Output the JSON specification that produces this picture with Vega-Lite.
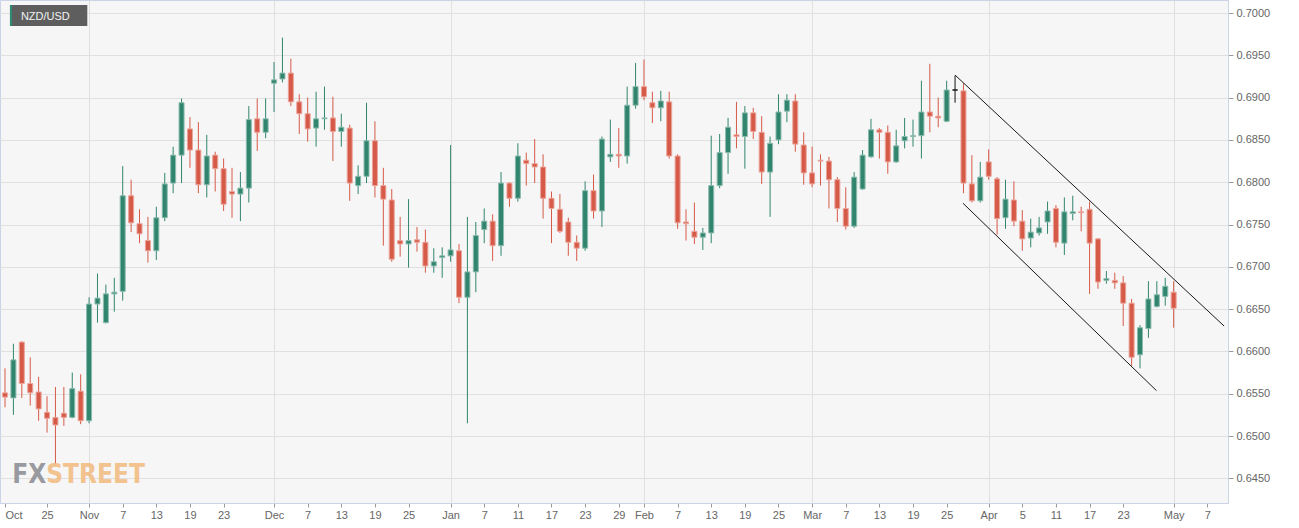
{
  "$schema": "https://vega.github.io/schema/vega-lite/v6.json",
  "width": 1228,
  "height": 503,
  "autosize": {"type": "none"},
  "padding": {"left": 0, "top": 0, "right": 71, "bottom": 25},
  "background": "#ffffff",
  "config": {
    "view": {"fill": "#f6f6f6", "stroke": "#cdd3e6", "strokeWidth": 1},
    "font": "Liberation Sans"
  },
  "datasets": {
    "candles": [
      {"i":0,"o":0.6551,"h":0.6580,"l":0.6534,"c":0.6546},
      {"i":1,"o":0.6545,"h":0.6609,"l":0.6525,"c":0.6590},
      {"i":2,"o":0.6611,"h":0.6612,"l":0.6545,"c":0.6562},
      {"i":3,"o":0.6562,"h":0.6593,"l":0.6536,"c":0.6551},
      {"i":4,"o":0.6552,"h":0.6570,"l":0.6518,"c":0.6532},
      {"i":5,"o":0.6528,"h":0.6547,"l":0.6504,"c":0.6521},
      {"i":6,"o":0.6522,"h":0.6558,"l":0.6466,"c":0.6513},
      {"i":7,"o":0.6527,"h":0.6558,"l":0.6512,"c":0.6522},
      {"i":8,"o":0.6522,"h":0.6575,"l":0.6521,"c":0.6556},
      {"i":9,"o":0.6553,"h":0.6573,"l":0.6514,"c":0.6518},
      {"i":10,"o":0.6518,"h":0.6664,"l":0.6515,"c":0.6656},
      {"i":11,"o":0.6656,"h":0.6692,"l":0.6634,"c":0.6663},
      {"i":12,"o":0.6634,"h":0.6679,"l":0.6633,"c":0.6668},
      {"i":13,"o":0.6668,"h":0.6687,"l":0.6647,"c":0.6670},
      {"i":14,"o":0.6671,"h":0.6819,"l":0.6660,"c":0.6784},
      {"i":15,"o":0.6784,"h":0.6803,"l":0.6741,"c":0.6752},
      {"i":16,"o":0.6751,"h":0.6768,"l":0.6728,"c":0.6739},
      {"i":17,"o":0.6731,"h":0.6759,"l":0.6705,"c":0.6719},
      {"i":18,"o":0.6719,"h":0.6771,"l":0.6708,"c":0.6758},
      {"i":19,"o":0.6758,"h":0.6811,"l":0.6754,"c":0.6798},
      {"i":20,"o":0.6799,"h":0.6842,"l":0.6787,"c":0.6832},
      {"i":21,"o":0.6832,"h":0.6899,"l":0.6799,"c":0.6894},
      {"i":22,"o":0.6863,"h":0.6877,"l":0.6817,"c":0.6838},
      {"i":23,"o":0.6838,"h":0.6871,"l":0.6787,"c":0.6797},
      {"i":24,"o":0.6797,"h":0.6856,"l":0.6782,"c":0.6831},
      {"i":25,"o":0.6832,"h":0.6836,"l":0.6789,"c":0.6816},
      {"i":26,"o":0.6816,"h":0.6828,"l":0.6766,"c":0.6774},
      {"i":27,"o":0.6789,"h":0.6817,"l":0.6758,"c":0.6786},
      {"i":28,"o":0.6786,"h":0.6812,"l":0.6754,"c":0.6793},
      {"i":29,"o":0.6793,"h":0.6890,"l":0.6776,"c":0.6874},
      {"i":30,"o":0.6875,"h":0.6899,"l":0.6837,"c":0.6859},
      {"i":31,"o":0.6859,"h":0.6899,"l":0.6852,"c":0.6875},
      {"i":32,"o":0.6917,"h":0.6942,"l":0.6883,"c":0.6921},
      {"i":33,"o":0.6922,"h":0.6971,"l":0.6918,"c":0.6929},
      {"i":34,"o":0.6929,"h":0.6946,"l":0.6890,"c":0.6895},
      {"i":35,"o":0.6895,"h":0.6904,"l":0.6857,"c":0.6881},
      {"i":36,"o":0.6881,"h":0.6900,"l":0.6848,"c":0.6863},
      {"i":37,"o":0.6864,"h":0.6907,"l":0.6842,"c":0.6875},
      {"i":38,"o":0.6875,"h":0.6913,"l":0.6862,"c":0.6876},
      {"i":39,"o":0.6876,"h":0.6901,"l":0.6825,"c":0.6860},
      {"i":40,"o":0.6860,"h":0.6881,"l":0.6842,"c":0.6865},
      {"i":41,"o":0.6864,"h":0.6868,"l":0.6778,"c":0.6799},
      {"i":42,"o":0.6796,"h":0.6820,"l":0.6786,"c":0.6807},
      {"i":43,"o":0.6807,"h":0.6894,"l":0.6799,"c":0.6849},
      {"i":44,"o":0.6849,"h":0.6872,"l":0.6782,"c":0.6796},
      {"i":45,"o":0.6796,"h":0.6817,"l":0.6725,"c":0.6780},
      {"i":46,"o":0.6779,"h":0.6792,"l":0.6706,"c":0.6709},
      {"i":47,"o":0.6731,"h":0.6759,"l":0.6712,"c":0.6727},
      {"i":48,"o":0.6727,"h":0.6780,"l":0.6699,"c":0.6731},
      {"i":49,"o":0.6732,"h":0.6747,"l":0.6718,"c":0.6729},
      {"i":50,"o":0.6729,"h":0.6744,"l":0.6693,"c":0.6701},
      {"i":51,"o":0.6701,"h":0.6722,"l":0.6693,"c":0.6706},
      {"i":52,"o":0.6711,"h":0.6723,"l":0.6687,"c":0.6713},
      {"i":53,"o":0.6713,"h":0.6844,"l":0.6706,"c":0.6720},
      {"i":54,"o":0.6719,"h":0.6727,"l":0.6657,"c":0.6664},
      {"i":55,"o":0.6664,"h":0.6759,"l":0.6515,"c":0.6694},
      {"i":56,"o":0.6694,"h":0.6753,"l":0.6670,"c":0.6737},
      {"i":57,"o":0.6744,"h":0.6769,"l":0.6728,"c":0.6754},
      {"i":58,"o":0.6754,"h":0.6762,"l":0.6707,"c":0.6725},
      {"i":59,"o":0.6725,"h":0.6812,"l":0.6713,"c":0.6799},
      {"i":60,"o":0.6799,"h":0.6800,"l":0.6771,"c":0.6781},
      {"i":61,"o":0.6781,"h":0.6846,"l":0.6777,"c":0.6831},
      {"i":62,"o":0.6826,"h":0.6835,"l":0.6796,"c":0.6822},
      {"i":63,"o":0.6822,"h":0.6851,"l":0.6799,"c":0.6818},
      {"i":64,"o":0.6818,"h":0.6833,"l":0.6757,"c":0.6781},
      {"i":65,"o":0.6781,"h":0.6789,"l":0.6728,"c":0.6769},
      {"i":66,"o":0.6768,"h":0.6786,"l":0.6740,"c":0.6742},
      {"i":67,"o":0.6753,"h":0.6758,"l":0.6713,"c":0.6729},
      {"i":68,"o":0.6729,"h":0.6737,"l":0.6707,"c":0.6722},
      {"i":69,"o":0.6722,"h":0.6801,"l":0.6719,"c":0.6790},
      {"i":70,"o":0.6790,"h":0.6809,"l":0.6757,"c":0.6766},
      {"i":71,"o":0.6766,"h":0.6854,"l":0.6747,"c":0.6851},
      {"i":72,"o":0.6830,"h":0.6874,"l":0.6824,"c":0.6833},
      {"i":73,"o":0.6833,"h":0.6864,"l":0.6817,"c":0.6831},
      {"i":74,"o":0.6831,"h":0.6913,"l":0.6822,"c":0.6891},
      {"i":75,"o":0.6891,"h":0.6941,"l":0.6887,"c":0.6913},
      {"i":76,"o":0.6913,"h":0.6945,"l":0.6897,"c":0.6901},
      {"i":77,"o":0.6894,"h":0.6907,"l":0.6870,"c":0.6888},
      {"i":78,"o":0.6888,"h":0.6908,"l":0.6872,"c":0.6896},
      {"i":79,"o":0.6895,"h":0.6907,"l":0.6828,"c":0.6831},
      {"i":80,"o":0.6831,"h":0.6833,"l":0.6745,"c":0.6752},
      {"i":81,"o":0.6753,"h":0.6768,"l":0.6731,"c":0.6751},
      {"i":82,"o":0.6742,"h":0.6776,"l":0.6727,"c":0.6735},
      {"i":83,"o":0.6735,"h":0.6746,"l":0.6720,"c":0.6740},
      {"i":84,"o":0.6740,"h":0.6855,"l":0.6728,"c":0.6796},
      {"i":85,"o":0.6796,"h":0.6857,"l":0.6793,"c":0.6835},
      {"i":86,"o":0.6835,"h":0.6876,"l":0.6810,"c":0.6865},
      {"i":87,"o":0.6856,"h":0.6895,"l":0.6840,"c":0.6854},
      {"i":88,"o":0.6854,"h":0.6890,"l":0.6816,"c":0.6882},
      {"i":89,"o":0.6882,"h":0.6888,"l":0.6851,"c":0.6860},
      {"i":90,"o":0.6859,"h":0.6878,"l":0.6798,"c":0.6812},
      {"i":91,"o":0.6812,"h":0.6854,"l":0.6759,"c":0.6846},
      {"i":92,"o":0.6850,"h":0.6904,"l":0.6845,"c":0.6883},
      {"i":93,"o":0.6884,"h":0.6904,"l":0.6871,"c":0.6897},
      {"i":94,"o":0.6896,"h":0.6904,"l":0.6836,"c":0.6845},
      {"i":95,"o":0.6844,"h":0.6859,"l":0.6797,"c":0.6811},
      {"i":96,"o":0.6811,"h":0.6842,"l":0.6794,"c":0.6798},
      {"i":97,"o":0.6826,"h":0.6833,"l":0.6796,"c":0.6825},
      {"i":98,"o":0.6825,"h":0.6830,"l":0.6769,"c":0.6803},
      {"i":99,"o":0.6803,"h":0.6806,"l":0.6753,"c":0.6769},
      {"i":100,"o":0.6769,"h":0.6794,"l":0.6744,"c":0.6748},
      {"i":101,"o":0.6748,"h":0.6812,"l":0.6746,"c":0.6806},
      {"i":102,"o":0.6792,"h":0.6838,"l":0.6791,"c":0.6832},
      {"i":103,"o":0.6830,"h":0.6875,"l":0.6829,"c":0.6862},
      {"i":104,"o":0.6862,"h":0.6864,"l":0.6828,"c":0.6859},
      {"i":105,"o":0.6859,"h":0.6867,"l":0.6810,"c":0.6824},
      {"i":106,"o":0.6824,"h":0.6862,"l":0.6823,"c":0.6843},
      {"i":107,"o":0.6849,"h":0.6876,"l":0.6840,"c":0.6854},
      {"i":108,"o":0.6854,"h":0.6874,"l":0.6842,"c":0.6855},
      {"i":109,"o":0.6855,"h":0.6920,"l":0.6828,"c":0.6883},
      {"i":110,"o":0.6883,"h":0.6940,"l":0.6859,"c":0.6878},
      {"i":111,"o":0.6878,"h":0.6900,"l":0.6865,"c":0.6876},
      {"i":112,"o":0.6872,"h":0.6920,"l":0.6871,"c":0.6909},
      {"i":113,"o":0.6909,"h":0.6926,"l":0.6894,"c":0.6909},
      {"i":114,"o":0.6908,"h":0.6917,"l":0.6787,"c":0.6799},
      {"i":115,"o":0.6798,"h":0.6832,"l":0.6776,"c":0.6778},
      {"i":116,"o":0.6778,"h":0.6824,"l":0.6776,"c":0.6806},
      {"i":117,"o":0.6824,"h":0.6839,"l":0.6803,"c":0.6807},
      {"i":118,"o":0.6804,"h":0.6806,"l":0.6738,"c":0.6757},
      {"i":119,"o":0.6758,"h":0.6803,"l":0.6745,"c":0.6780},
      {"i":120,"o":0.6779,"h":0.6801,"l":0.6748,"c":0.6754},
      {"i":121,"o":0.6754,"h":0.6767,"l":0.6719,"c":0.6733},
      {"i":122,"o":0.6734,"h":0.6757,"l":0.6723,"c":0.6741},
      {"i":123,"o":0.6740,"h":0.6759,"l":0.6737,"c":0.6746},
      {"i":124,"o":0.6753,"h":0.6777,"l":0.6739,"c":0.6766},
      {"i":125,"o":0.6769,"h":0.6773,"l":0.6723,"c":0.6729},
      {"i":126,"o":0.6728,"h":0.6782,"l":0.6714,"c":0.6765},
      {"i":127,"o":0.6763,"h":0.6784,"l":0.6755,"c":0.6765},
      {"i":128,"o":0.6765,"h":0.6771,"l":0.6742,"c":0.6764},
      {"i":129,"o":0.6768,"h":0.6777,"l":0.6668,"c":0.6728},
      {"i":130,"o":0.6733,"h":0.6734,"l":0.6674,"c":0.6682},
      {"i":131,"o":0.6684,"h":0.6695,"l":0.6680,"c":0.6686},
      {"i":132,"o":0.6684,"h":0.6693,"l":0.6674,"c":0.6681},
      {"i":133,"o":0.6681,"h":0.6689,"l":0.6630,"c":0.6657},
      {"i":134,"o":0.6657,"h":0.6662,"l":0.6583,"c":0.6593},
      {"i":135,"o":0.6596,"h":0.6631,"l":0.6580,"c":0.6628},
      {"i":136,"o":0.6627,"h":0.6683,"l":0.6616,"c":0.6662},
      {"i":137,"o":0.6653,"h":0.6683,"l":0.6652,"c":0.6667},
      {"i":138,"o":0.6665,"h":0.6687,"l":0.6654,"c":0.6677},
      {"i":139,"o":0.6670,"h":0.6683,"l":0.6628,"c":0.6651}
    ],
    "channel": [
      {"x1": 113, "p1": 0.69267, "x2": 145, "p2": 0.66300},
      {"x1": 113.95, "p1": 0.67751, "x2": 136.96, "p2": 0.65536}
    ],
    "one": [{"k": 1}]
  },
  "layer": [
    {
      "data": {"name": "candles"},
      "mark": {"type": "rule", "strokeWidth": 1, "clip": true},
      "encoding": {
        "x": {
          "field": "i", "type": "quantitative",
          "scale": {"domain": [0, 144.87], "nice": false, "zero": false},
          "axis": {
            "title": null,
            "values": [0,5,10,14,18,22,26,32,36,40,44,48,53,57,61,65,69,73,76,80,84,88,92,96,100,104,108,112,117,121,125,129,133,139,143],
            "tickCount": 100,
            "labelExpr": "['Oct','25','Nov','7','13','19','23','Dec','7','13','19','25','Jan','7','11','17','23','29','Feb','7','13','19','25','Mar','7','13','19','25','Apr','5','11','17','23','May','7'][indexof([0,5,10,14,18,22,26,32,36,40,44,48,53,57,61,65,69,73,76,80,84,88,92,96,100,104,108,112,117,121,125,129,133,139,143], datum.value)]",
            "labelOverlap": false,
            "labelAlign": {"condition": {"test": "datum.value == 0", "value": "left"}, "value": "center"},
            "labelColor": "#666666",
            "labelFontSize": 11,
            "labelFont": "Liberation Sans",
            "labelPadding": 2,
            "tickSize": 4,
            "tickColor": "#9a9a9a",
            "domainColor": "#cdd3e6",
            "grid": true,
            "gridColor": "#e0e0e0",
            "gridOpacity": {"condition": {"test": "indexof([10,32,53,76,96,117,139], datum.value) >= 0", "value": 1}, "value": 0}
          }
        },
        "y": {
          "field": "l", "type": "quantitative",
          "scale": {"domain": [0.64208, 0.70154], "nice": false, "zero": false},
          "axis": {
            "title": null,
            "orient": "right",
            "values": [0.645,0.65,0.655,0.66,0.665,0.67,0.675,0.68,0.685,0.69,0.695,0.7],
            "tickCount": 50,
            "format": ".4f",
            "labelOverlap": false,
            "labelColor": "#666666",
            "labelFontSize": 11,
            "labelFont": "Liberation Sans",
            "labelPadding": 3,
            "tickSize": 5,
            "tickColor": "#9a9a9a",
            "domainColor": "#cdd3e6",
            "grid": true,
            "gridColor": "#e0e0e0"
          }
        },
        "y2": {"field": "h"},
        "color": {"condition": [{"test": "datum.c > datum.o", "value": "#31856f"}, {"test": "datum.c < datum.o", "value": "#d65a48"}], "value": "#111111"}
      }
    },
    {
      "data": {"name": "one"},
      "mark": {"type": "text", "text": "FX", "align": "right", "baseline": "alphabetic", "font": "Liberation Sans Narrow, DejaVu Sans Condensed, sans-serif", "fontWeight": "bold", "fontSize": 26, "color": "#8e9197", "opacity": 0.9},
      "encoding": {
        "x": {"datum": 4.9, "type": "quantitative"},
        "y": {"datum": 0.64446, "type": "quantitative"}
      }
    },
    {
      "data": {"name": "one"},
      "mark": {"type": "text", "text": "STREET", "align": "left", "baseline": "alphabetic", "font": "Liberation Sans Narrow, DejaVu Sans Condensed, sans-serif", "fontWeight": "bold", "fontSize": 26, "color": "#f2bd84", "opacity": 0.9},
      "encoding": {
        "x": {"datum": 4.9, "type": "quantitative"},
        "y": {"datum": 0.64446, "type": "quantitative"}
      }
    },
    {
      "data": {"name": "candles"},
      "mark": {"type": "bar", "width": 5, "strokeWidth": 1, "clip": true},
      "encoding": {
        "x": {"field": "i", "type": "quantitative"},
        "y": {"field": "o", "type": "quantitative"},
        "y2": {"field": "c"},
        "color": {"condition": [{"test": "datum.c > datum.o", "value": "#31856f"}, {"test": "datum.c < datum.o", "value": "#d65a48"}], "value": "#111111"},
        "stroke": {"condition": [{"test": "datum.c > datum.o", "value": "#8cbcad"}, {"test": "datum.c < datum.o", "value": "#eca59b"}], "value": "#111111"}
      }
    },
    {
      "data": {"name": "channel"},
      "mark": {"type": "rule", "color": "#1a1a1a", "strokeWidth": 1, "clip": true},
      "encoding": {
        "x": {"field": "x1", "type": "quantitative"},
        "x2": {"field": "x2"},
        "y": {"field": "p1", "type": "quantitative"},
        "y2": {"field": "p2"}
      }
    },
    {
      "data": {"name": "one"},
      "mark": {"type": "rect", "color": "#5e5e5e"},
      "encoding": {
        "x": {"datum": 0.59, "type": "quantitative"},
        "x2": {"datum": 9.79},
        "y": {"datum": 0.70095, "type": "quantitative"},
        "y2": {"datum": 0.69847}
      }
    },
    {
      "data": {"name": "one"},
      "mark": {"type": "rect", "color": "#2e8a72"},
      "encoding": {
        "x": {"datum": 0.59, "type": "quantitative"},
        "x2": {"datum": 0.83},
        "y": {"datum": 0.70095, "type": "quantitative"},
        "y2": {"datum": 0.69847}
      }
    },
    {
      "data": {"name": "one"},
      "mark": {"type": "text", "text": "NZD/USD", "align": "left", "baseline": "alphabetic", "fontSize": 11, "font": "Liberation Sans", "color": "#f2f2f2"},
      "encoding": {
        "x": {"datum": 1.89, "type": "quantitative"},
        "y": {"datum": 0.69918, "type": "quantitative"}
      }
    }
  ]
}
